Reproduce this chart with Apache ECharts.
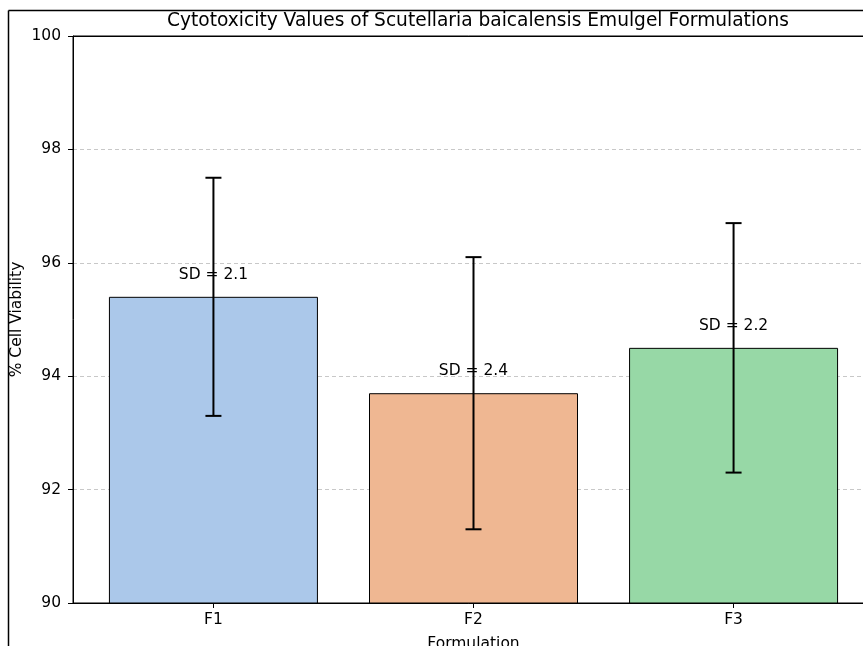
<!DOCTYPE html>
<html>
<head>
<meta charset="utf-8">
<script src="https://cdn.jsdelivr.net/npm/echarts@6/dist/echarts.min.js"></script>
<style>html,body{margin:0;padding:0;background:#fff;}#c{width:863px;height:646px;}</style>
</head>
<body>
<div id="c"></div>
<script>
const categories = ['F1', 'F2', 'F3'];
const meanValues = [95.4, 93.7, 94.5];
const sdValues = [2.1, 2.4, 2.2];
const barColors = ['#abc8ea', '#efb792', '#97d8a6'];
const yTicks = [90, 92, 94, 96, 98, 100];

const FONT = 'DejaVu Sans';
const FS = 15.5;
const chart = echarts.init(document.getElementById('c'), null, {renderer: 'canvas'});

const barData = categories.map((c, i) => ({
  value: [i, meanValues[i]],
  itemStyle: {color: barColors[i], borderColor: '#000', borderWidth: 1}
}));
const errData = categories.map((c, i) => [i, meanValues[i], sdValues[i]]);

chart.setOption({
  animation: false,
  title: {
    text: 'Cytotoxicity Values of Scutellaria baicalensis Emulgel Formulations',
    left: 473, top: 7, textAlign: 'center',
    textStyle: {fontFamily: FONT, fontSize: 18.6, fontWeight: 'normal', color: '#000'}
  },
  grid: {left: 73, top: 36, right: -11, bottom: 43, outerBoundsMode: 'none', containLabel: false,
    show: true, borderColor: '#000', borderWidth: 1, backgroundColor: 'transparent'},
  xAxis: {
    type: 'value', min: -0.54, max: 2.54,
    name: 'Formulation', nameLocation: 'middle', nameGap: 33, nameMoveOverlap: false,
    nameTextStyle: {fontFamily: FONT, fontSize: FS, color: '#000'},
    axisLine: {show: true, onZero: false, lineStyle: {color: '#000', width: 1}},
    axisTick: {show: true, customValues: [0, 1, 2], length: 5, lineStyle: {color: '#000'}},
    axisLabel: {show: true, customValues: [0, 1, 2], margin: 9, fontFamily: FONT, fontSize: FS, color: '#000',
      formatter: v => categories[Math.round(v)]},
    splitLine: {show: false}
  },
  yAxis: {
    type: 'value', min: yTicks[0], max: yTicks[yTicks.length - 1], interval: 2,
    name: '% Cell Viability', nameLocation: 'middle', nameGap: 48, nameMoveOverlap: false,
    nameTextStyle: {fontFamily: FONT, fontSize: FS, color: '#000'},
    axisLine: {show: true, onZero: false, lineStyle: {color: '#000', width: 1}},
    axisTick: {show: true, length: 5, lineStyle: {color: '#000'}},
    axisLabel: {margin: 12, fontFamily: FONT, fontSize: FS, color: '#000'},
    splitLine: {show: true, showMinLine: false, showMaxLine: false, lineStyle: {color: '#c8c8c8', type: [4, 3], width: 1}}
  },
  series: [
    {
      type: 'bar', data: barData, barWidth: 209, z: 2,
      label: {show: false}
    },
    {
      type: 'custom', z: 5,
      renderItem: function (params, api) {
        const x = api.value(0), m = api.value(1), sd = api.value(2);
        const top = api.coord([x, m + sd]);
        const bot = api.coord([x, m - sd]);
        const bar = api.coord([x, m]);
        const cap = 8;
        const style = {stroke: '#000', lineWidth: 2};
        return {
          type: 'group',
          children: [
            {type: 'text', z2: 1, style: {text: 'SD = ' + sd.toFixed(1), x: bar[0], y: bar[1] - 22, align: 'center', verticalAlign: 'middle', fontFamily: FONT, fontSize: FS, fill: '#000'}},
            {type: 'line', z2: 2, shape: {x1: top[0], y1: top[1], x2: bot[0], y2: bot[1]}, style: style},
            {type: 'line', z2: 2, shape: {x1: top[0] - cap, y1: top[1], x2: top[0] + cap, y2: top[1]}, style: style},
            {type: 'line', z2: 2, shape: {x1: bot[0] - cap, y1: bot[1], x2: bot[0] + cap, y2: bot[1]}, style: style}
          ]
        };
      },
      data: errData
    }
  ],
  graphic: [
    {type: 'line', shape: {x1: 8.5, y1: 10.5, x2: 863, y2: 10.5}, style: {stroke: '#000', lineWidth: 1.5}},
    {type: 'line', shape: {x1: 8.5, y1: 10.5, x2: 8.5, y2: 646}, style: {stroke: '#000', lineWidth: 1.5}},
    {type: 'line', z: 10, shape: {x1: 73, y1: 36.5, x2: 863, y2: 36.5}, style: {stroke: '#000', lineWidth: 1}}
  ]
});
</script>
</body>
</html>
